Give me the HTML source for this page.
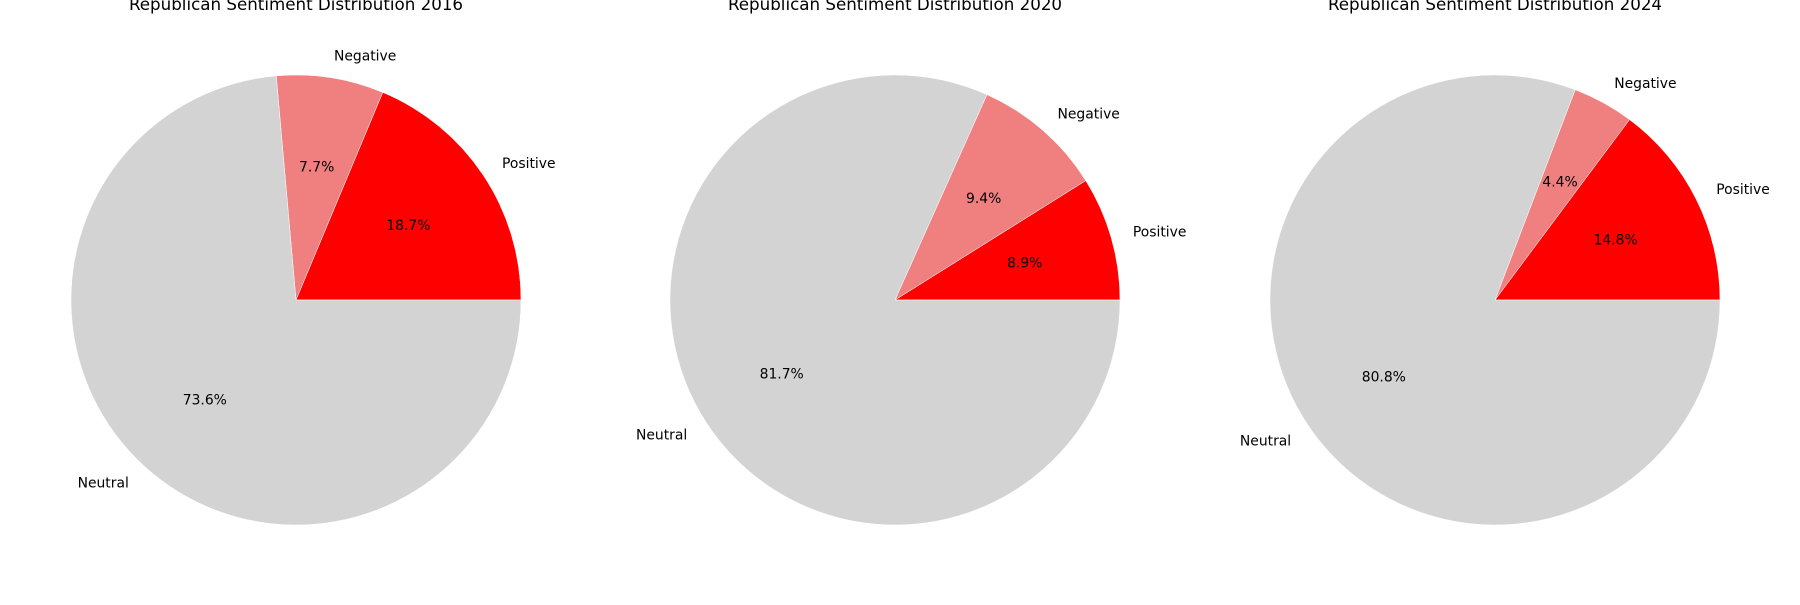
<!DOCTYPE html>
<html><head><meta charset="utf-8"><style>
html,body{margin:0;padding:0;background:#fff;}
svg text{font-family:"DejaVu Sans","Liberation Sans",sans-serif;}
</style></head><body>
<svg id="chart" width="1800" height="600" xmlns="http://www.w3.org/2000/svg"></svg>
<script>
const years = ["2016","2020","2024"];
const categories = ["Positive","Negative","Neutral"];
const values2016 = [18.7, 7.7, 73.6];
const values2020 = [8.9, 9.4, 81.7];
const values2024 = [14.8, 4.4, 80.8];
const colors = ["#ff0000","#f08080","#d3d3d3"];
const allValues = [values2016, values2020, values2024];
const centersX = [296, 895, 1495];
const cy = 300, R = 225;
const svg = document.getElementById('chart');
const NS = "http://www.w3.org/2000/svg";
function mk(tag, attrs){const e=document.createElementNS(NS,tag);for(const k in attrs)e.setAttribute(k,attrs[k]);return e;}
allValues.forEach((vals, i) => {
  const cx = centersX[i];
  const g = mk('g', {});
  
  
  svg.appendChild(g);
  const title = mk('text', {x: cx, y: 10, 'text-anchor': 'middle', 'font-size': '16.7'});
  
  
  title.textContent = 'Republican Sentiment Distribution ' + years[i];
  g.appendChild(title);
  const total = vals.reduce((a, b) => a + b, 0);
  let start = 0;
  vals.forEach((v, j) => {
    const sweep = v / total * 2 * Math.PI;
    const a0 = start, a1 = start + sweep;
    const x0 = cx + R * Math.cos(a0), y0 = cy - R * Math.sin(a0);
    const x1 = cx + R * Math.cos(a1), y1 = cy - R * Math.sin(a1);
    const large = sweep > Math.PI ? 1 : 0;
    const p = mk('path', {d: `M${cx},${cy} L${x0},${y0} A${R},${R} 0 ${large} 0 ${x1},${y1} Z`, fill: colors[j], stroke: '#fff', 'stroke-width': '0.5'});
    
    
    g.appendChild(p);
    const mid = (a0 + a1) / 2;
    const lx = cx + 1.1 * R * Math.cos(mid), ly = cy - 1.1 * R * Math.sin(mid);
    const lab = mk('text', {x: lx, y: ly + 5, 'text-anchor': Math.cos(mid) >= 0 ? 'start' : 'end', 'font-size': '13.9'});
    
    
    lab.textContent = categories[j];
    g.appendChild(lab);
    const px = cx + 0.6 * R * Math.cos(mid), py = cy - 0.6 * R * Math.sin(mid);
    const pct = mk('text', {x: px, y: py + 5, 'text-anchor': 'middle', 'font-size': '13.9'});
    
    
    pct.textContent = (v / total * 100).toFixed(1) + '%';
    g.appendChild(pct);
    start = a1;
  });
});
</script>
</body></html>
